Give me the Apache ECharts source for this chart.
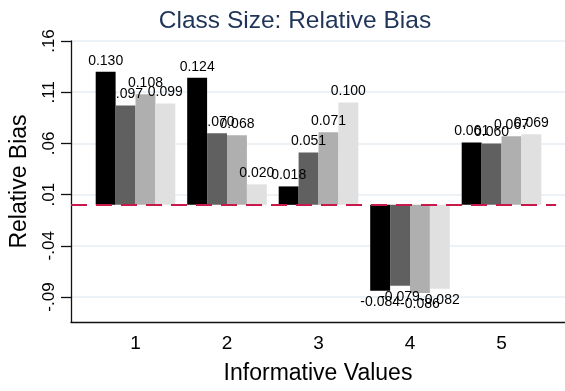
<!DOCTYPE html>
<html>
<head>
<meta charset="utf-8">
<script src="https://cdn.jsdelivr.net/npm/echarts@6/dist/echarts.min.js"></script>
<style>html,body{margin:0;padding:0;background:#fff}#c{width:565px;height:391px}</style>
</head>
<body>
<div id="c"></div>
<script>
var categories = ['1', '2', '3', '4', '5'];
var series1 = [0.130, 0.124, 0.018, -0.084, 0.061];
var series2 = [0.097, 0.070, 0.051, -0.079, 0.060];
var series3 = [0.108, 0.068, 0.071, -0.086, 0.067];
var series4 = [0.099, 0.020, 0.100, -0.082, 0.069];
var yTicks = [-0.09, -0.04, 0.01, 0.06, 0.11, 0.16];
var yTickLabels = ['-.09', '-.04', '.01', '.06', '.11', '.16'];
var refValue = 0;

var FONT = 'Liberation Sans, Arial, Helvetica, sans-serif';
var YMIN = -0.1144, YMAX = 0.16;
var colors = ['#000000', '#606060', '#afafaf', '#e0e0e0'];
var allSeries = [series1, series2, series3, series4];

var chart = echarts.init(document.getElementById('c'), null, {renderer: 'canvas'});

var bars = allSeries.map(function (d, i) {
  return {
    type: 'bar',
    xAxisIndex: 1,
    yAxisIndex: 1,
    data: d.map(function (v) {
      return {value: v, label: {position: v < 0 ? 'bottom' : 'top'}};
    }),
    itemStyle: {color: colors[i]},
    barGap: '0%',
    barCategoryGap: '13%',
    label: {
      show: true,
      distance: 4,
      fontFamily: FONT,
      fontSize: 14,
      color: '#000',
      formatter: function (p) { return p.value.toFixed(3); }
    },
    z: 3
  };
});

var option = {
  animation: false,
  backgroundColor: '#fff',
  title: {
    text: 'Class Size: Relative Bias',
    left: 290,
    textAlign: 'center',
    top: 4,
    textStyle: {fontFamily: FONT, fontSize: 24.5, fontWeight: 'normal', color: '#1f3458'}
  },
  grid: [
    {left: 68, right: 0, top: 41, height: 281},
    {left: 89.75, width: 457.5, top: 41, height: 281}
  ],
  xAxis: [
    {
      type: 'value', gridIndex: 0, min: 0, max: 1,
      axisLine: {show: true, onZero: false, lineStyle: {color: '#111', width: 1.3}},
      axisTick: {show: false}, axisLabel: {show: false}, splitLine: {show: false},
      name: 'Informative Values', nameLocation: 'middle', nameGap: 40,
      nameTextStyle: {fontFamily: FONT, fontSize: 23, color: '#000'}
    },
    {
      type: 'category', gridIndex: 1, data: categories,
      axisLine: {show: false}, axisTick: {show: false},
      axisLabel: {fontFamily: FONT, fontSize: 19, color: '#000', margin: 12}
    }
  ],
  yAxis: [
    {
      type: 'value', gridIndex: 0, min: YMIN, max: YMAX,
      axisLine: {show: true, onZero: false, lineStyle: {color: '#111', width: 1.3}},
      axisTick: {show: true, length: 10, customValues: yTicks, lineStyle: {color: '#111', width: 1.3}},
      axisLabel: {
        customValues: yTicks, rotate: 90, margin: 13,
        fontFamily: FONT, fontSize: 17, color: '#000',
        formatter: function (v) {
          for (var i = 0; i < yTicks.length; i++) {
            if (Math.abs(v - yTicks[i]) < 1e-9) return yTickLabels[i];
          }
          return '';
        }
      },
      splitLine: {show: true, lineStyle: {color: '#e6eef2', width: 1.5}},
      name: 'Relative Bias', nameLocation: 'middle', nameGap: 40,
      nameTextStyle: {fontFamily: FONT, fontSize: 23, color: '#000'}
    },
    {
      type: 'value', gridIndex: 1, min: YMIN, max: YMAX, show: false,
      splitLine: {show: false}
    }
  ],
  series: [{
    type: 'line', xAxisIndex: 0, yAxisIndex: 0, data: [],
    silent: true, z: 5,
    markLine: {
      silent: true, symbol: 'none', label: {show: false},
      lineStyle: {color: '#c8194b', width: 2, type: [16, 9]},
      data: [[{coord: [0, refValue]}, {coord: [0.982, refValue]}]]
    }
  }].concat(bars)
};
chart.setOption(option);
</script>
</body>
</html>
